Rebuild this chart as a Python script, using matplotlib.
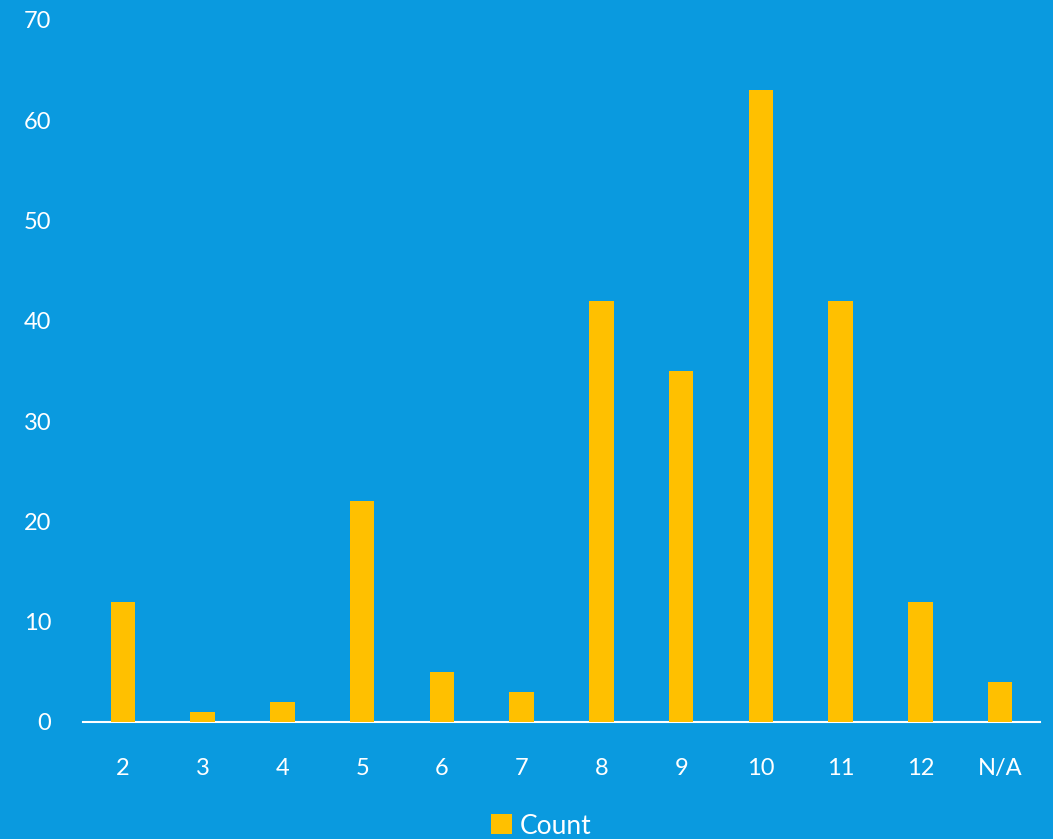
import matplotlib
matplotlib.use("Agg")
import matplotlib.pyplot as plt
from matplotlib.patches import Patch

categories = ["2", "3", "4", "5", "6", "7", "8", "9", "10", "11", "12", "N/A"]
counts = [12, 1, 2, 22, 5, 3, 42, 35, 63, 42, 12, 4]
series_name = "Count"
y_ticks = [0, 10, 20, 30, 40, 50, 60, 70]

bg = "#0A9ADF"
bar_color = "#FFC000"

plt.rcParams['font.family'] = ['Lato', 'DejaVu Sans']

fig = plt.figure(figsize=(10.53, 8.39), dpi=100, facecolor=bg)
ax = fig.add_axes([83/1053, 1 - 722/839, (1040 - 83)/1053, (722 - 20)/839])
ax.set_facecolor(bg)

x = list(range(len(categories)))
ax.bar(x, counts, width=0.31, color=bar_color, zorder=3)

ax.set_xlim(-0.5, len(categories) - 0.5)
ax.set_ylim(0, 70)
ax.set_yticks(y_ticks)
ax.set_yticklabels([str(t) for t in y_ticks])
ax.set_xticks(x)
ax.set_xticklabels(categories)

for s in ["top", "right", "left"]:
    ax.spines[s].set_visible(False)
ax.spines["bottom"].set_color("white")
ax.spines["bottom"].set_linewidth(1.5)

ax.tick_params(axis="y", length=0, pad=23, labelsize=17, labelcolor="white")
ax.tick_params(axis="x", length=0, pad=26, labelsize=17, labelcolor="white")

handles = [Patch(facecolor=bar_color, label=series_name)]
fig.legend(handles=handles, loc="center", bbox_to_anchor=(541/1053, 1 - 826/839),
           frameon=False, fontsize=19, labelcolor="white", handlelength=0.8,
           handleheight=0.8, handletextpad=0.3)

fig.savefig("out.png", dpi=100, facecolor=bg)
